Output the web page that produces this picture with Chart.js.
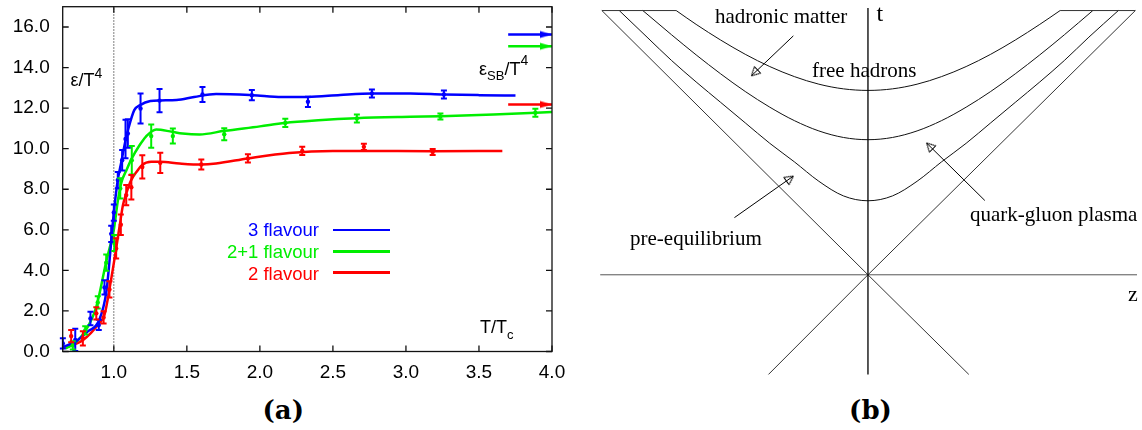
<!DOCTYPE html>
<html>
<head>
<meta charset="utf-8">
<title>energy density and space-time picture</title>
<script src="https://cdn.jsdelivr.net/npm/chart.js@4.4.1/dist/chart.umd.min.js"></script>
<style>
html, body { margin: 0; padding: 0; background: #fff; }
#page { position: relative; width: 1142px; height: 430px; overflow: hidden; }
#page canvas { position: absolute; }
.lbl { position: absolute; line-height: 0; white-space: nowrap; color: #000; }
.sans { font-family: 'Liberation Sans', Arial, Helvetica, sans-serif; }
.serif { font-family: 'Liberation Serif', 'Times New Roman', serif; }
.tag { font-family: 'DejaVu Serif', serif; font-weight: bold; }
.key { position: absolute; height: 2.5px; }
</style>
</head>
<body>
<div id="page">
  <canvas id="chart-a" width="580" height="390" style="left:0px;top:0px"></canvas>
  <canvas id="chart-b" width="552" height="384" style="left:590px;top:0px"></canvas>
</div>
<script>
// ---------- (a) eps/T^4 against T/Tc ----------
var xTicks = [1.0, 1.5, 2.0, 2.5, 3.0, 3.5, 4.0];
var yTicks = [0, 2, 4, 6, 8, 10, 12, 14, 16];
var xRange = [0.65, 4.0];
var yRange = [0, 17];

var names = ['3 flavour', '2+1 flavour', '2 flavour'];
var colors = ['#0000ff', '#00ee00', '#ff0000'];

// lattice points with errors
var blueX   = [0.651, 0.736, 0.840, 0.897, 0.936, 0.982, 1.000, 1.027, 1.057, 1.080, 1.096, 1.183, 1.313, 1.607, 1.945, 2.329, 2.767, 3.260];
var blueY   = [0.40, 0.57, 1.63, 1.31, 3.16, 5.80, 6.85, 8.45, 9.43, 10.48, 10.75, 11.98, 12.37, 12.67, 12.64, 12.31, 12.72, 12.67];
var blueErr = [0.25, 0.55, 0.33, 0.25, 0.35, 0.40, 0.40, 0.40, 0.50, 0.95, 0.70, 0.74, 0.57, 0.37, 0.25, 0.25, 0.20, 0.20];

var greenX   = [0.719, 0.804, 0.890, 0.948, 1.003, 1.044, 1.123, 1.256, 1.404, 1.756, 2.174, 2.664, 3.236, 3.886];
var greenY   = [0.30, 1.04, 2.42, 4.38, 5.35, 8.04, 9.43, 10.62, 10.62, 10.71, 11.27, 11.49, 11.59, 11.77];
var greenErr = [0.20, 0.20, 0.30, 0.40, 0.40, 0.50, 0.70, 0.57, 0.37, 0.30, 0.20, 0.20, 0.15, 0.20];

var redX   = [0.708, 0.788, 0.880, 0.930, 0.970, 1.016, 1.048, 1.085, 1.120, 1.195, 1.318, 1.599, 1.918, 2.290, 2.712, 3.183];
var redY   = [0.76, 0.65, 1.88, 1.68, 3.06, 5.08, 6.25, 7.71, 8.10, 9.10, 9.30, 9.22, 9.52, 9.89, 10.09, 9.84];
var redErr = [0.30, 0.35, 0.30, 0.30, 0.40, 0.50, 0.50, 0.50, 0.60, 0.57, 0.50, 0.25, 0.20, 0.20, 0.15, 0.15];

// fitted curves
var blueFitX = [0.65, 0.74, 0.82, 0.90, 0.95, 0.977, 1.0, 1.027, 1.05, 1.08, 1.10, 1.14, 1.18, 1.25, 1.32, 1.43, 1.55, 1.70, 1.95, 2.15, 2.33, 2.55, 2.77, 3.03, 3.26, 3.50, 3.75];
var blueFitY = [0.22, 0.50, 0.98, 1.55, 3.00, 5.00, 6.85, 8.45, 9.30, 10.40, 11.00, 11.90, 12.15, 12.35, 12.38, 12.40, 12.55, 12.70, 12.64, 12.55, 12.55, 12.65, 12.72, 12.72, 12.67, 12.64, 12.62];

var greenFitX = [0.67, 0.72, 0.80, 0.88, 0.95, 1.00, 1.027, 1.05, 1.09, 1.123, 1.176, 1.22, 1.29, 1.40, 1.47, 1.587, 1.758, 2.00, 2.17, 2.40, 2.66, 3.03, 3.24, 3.60, 3.89, 4.00];
var greenFitY = [0.15, 0.35, 0.95, 2.20, 4.50, 6.00, 7.40, 8.29, 9.00, 9.52, 10.17, 10.60, 10.95, 10.83, 10.75, 10.70, 10.88, 11.10, 11.27, 11.40, 11.50, 11.57, 11.60, 11.68, 11.77, 11.81];

var redFitX = [0.65, 0.79, 0.90, 0.936, 0.977, 1.016, 1.04, 1.062, 1.09, 1.119, 1.16, 1.192, 1.256, 1.318, 1.45, 1.60, 1.70, 1.918, 2.20, 2.50, 2.71, 3.18, 3.66];
var redFitY = [0.16, 0.57, 1.39, 1.80, 3.36, 5.08, 6.20, 7.20, 7.90, 8.45, 8.90, 9.19, 9.35, 9.35, 9.27, 9.22, 9.27, 9.52, 9.79, 9.89, 9.89, 9.87, 9.89];

// Stefan-Boltzmann limits (the arrows on the right)
var sbY = [15.63, 15.05, 12.18];
var sbX = [3.70, 4.0];
var tc = 1.0;

// ---------- (b) space-time picture, z and t in drawing units ----------
var zRange = [-278, 274];
var tRange = [-107, 277];
var edgeT = 271.3;

var coneZ1 = [-271, 0, 102.7],  coneT1 = [271.3, 0, -102.3];
var coneZ2 = [272.3, 0, -101.3], coneT2 = [271.3, 0, -102.3];
var tAxisZ = [0, 0], tAxisT = [274, -102.3];
var zAxisZ = [-272.7, 274], zAxisT = [0, 0];
var edgeLeftZ = [-271, -195.3], edgeRightZ = [195.7, 272.3];

var lowZ = [-253.3, -225, -200, -175, -150, -125, -100, -75, -50, -25, 0, 25, 50, 75, 100, 125, 150, 175, 200, 225, 255];
var lowT = [271.3, 244, 220, 198, 177, 156, 135, 116, 96, 81, 76, 81, 96, 116, 135, 156, 177, 198, 220, 244, 271.3];

var midZ = [-229.3, -200, -175, -150, -125, -100, -75, -50, -25, 0, 25, 50, 75, 100, 125, 150, 175, 200, 229];
var midT = [271.3, 246.4, 225.8, 206.3, 188.2, 172.1, 158.3, 147.7, 141.0, 138.7, 141.0, 147.7, 158.3, 172.1, 188.2, 206.3, 225.8, 246.4, 271.3];

var topZ = [-195.3, -175, -150, -125, -100, -75, -50, -25, 0, 25, 50, 75, 100, 125, 150, 175, 195.7];
var topT = [271.3, 257.1, 241.0, 226.4, 213.8, 203.5, 195.7, 190.9, 189.3, 190.9, 195.7, 203.5, 213.8, 226.4, 241.0, 257.1, 271.3];

// label pointers: [start z, start t], [tip z, tip t]
var hadronPointer = [[-76, 245.3], [-118.7, 204.3]];
var prePointer    = [[-136, 58.7], [-76, 101.3]];
var qgpPointer    = [[119, 76.3], [59.7, 135.3]];

Chart.defaults.font.family = "'Liberation Sans', Arial, sans-serif";
Chart.defaults.color = '#000';

function pts(xs, ys) {
    return xs.map(function (v, i) { return {x: v, y: ys[i]}; });
}

function arrowHead(color) {
    var c = document.createElement('canvas');
    c.width = 28; c.height = 10;
    var g = c.getContext('2d');
    g.fillStyle = color;
    g.beginPath(); g.moveTo(14, 5); g.lineTo(2, 1.5); g.lineTo(2, 8.5); g.closePath(); g.fill();
    return c;
}

function openHead() {
    var c = document.createElement('canvas');
    c.width = 20; c.height = 12;
    var g = c.getContext('2d');
    g.strokeStyle = '#000'; g.lineWidth = 1;
    g.beginPath(); g.moveTo(10, 6); g.lineTo(1.5, 1.5); g.lineTo(1.5, 10.5); g.closePath(); g.stroke();
    return c;
}

var errorBars = {
    id: 'errorBars',
    afterDatasetsDraw: function (chart) {
        var ctx = chart.ctx, x = chart.scales.x, y = chart.scales.y;
        chart.data.datasets.forEach(function (ds) {
            if (!ds.errors) return;
            ctx.save();
            ctx.strokeStyle = ds.borderColor;
            ctx.lineWidth = 2;
            ctx.beginPath();
            ds.data.forEach(function (p, j) {
                var px = x.getPixelForValue(p.x);
                var hi = y.getPixelForValue(p.y + ds.errors[j]);
                var lo = y.getPixelForValue(p.y - ds.errors[j]);
                ctx.moveTo(px, hi); ctx.lineTo(px, lo);
                ctx.moveTo(px - 3, hi); ctx.lineTo(px + 3, hi);
                ctx.moveTo(px - 3, lo); ctx.lineTo(px + 3, lo);
            });
            ctx.stroke();
            ctx.restore();
        });
    }
};

// box with inward ticks on all four sides
var frame = {
    id: 'frame',
    afterDraw: function (chart) {
        var ctx = chart.ctx, a = chart.chartArea, x = chart.scales.x, y = chart.scales.y;
        ctx.save();
        ctx.strokeStyle = '#111';
        ctx.lineWidth = 1.3;
        ctx.strokeRect(a.left, a.top, a.right - a.left, a.bottom - a.top);
        ctx.beginPath();
        x.ticks.forEach(function (t) {
            var p = x.getPixelForValue(t.value);
            ctx.moveTo(p, a.bottom); ctx.lineTo(p, a.bottom - 6);
            ctx.moveTo(p, a.top); ctx.lineTo(p, a.top + 6);
        });
        y.ticks.forEach(function (t) {
            var p = y.getPixelForValue(t.value);
            ctx.moveTo(a.left, p); ctx.lineTo(a.left + 6, p);
            ctx.moveTo(a.right, p); ctx.lineTo(a.right - 6, p);
        });
        ctx.stroke();
        ctx.restore();
    }
};

var pointSets = [[blueX, blueY, blueErr], [greenX, greenY, greenErr], [redX, redY, redErr]];
var fitSets = [[blueFitX, blueFitY], [greenFitX, greenFitY], [redFitX, redFitY]];

var datasetsA = [];
pointSets.forEach(function (s, k) {
    datasetsA.push({
        label: names[k] + ' (lattice)',
        data: pts(s[0], s[1]),
        errors: s[2],
        showLine: false,
        borderColor: colors[k],
        backgroundColor: colors[k],
        pointRadius: 2.2,
        pointBorderWidth: 0
    });
});
fitSets.forEach(function (f, k) {
    datasetsA.push({
        label: names[k],
        data: pts(f[0], f[1]),
        borderColor: colors[k],
        borderWidth: 2.5,
        pointRadius: 0,
        cubicInterpolationMode: 'monotone',
        fill: false
    });
});
sbY.forEach(function (v, k) {
    datasetsA.push({
        label: names[k] + ' SB',
        data: [{x: sbX[0], y: v}, {x: sbX[1], y: v}],
        borderColor: colors[k],
        borderWidth: 2.5,
        pointRadius: [0, 4],
        pointStyle: arrowHead(colors[k]),
        clip: false
    });
});
datasetsA.push({
    label: 'Tc',
    data: [{x: tc, y: yRange[0]}, {x: tc, y: yRange[1]}],
    borderColor: '#000',
    borderWidth: 1,
    borderDash: [1, 2],
    pointRadius: 0
});

function noPad(s) {
    s.paddingTop = 0; s.paddingBottom = 0; s.paddingLeft = 0; s.paddingRight = 0;
}

var configA = {
    type: 'line',
    data: { datasets: datasetsA },
    options: {
        responsive: false,
        animation: false,
        devicePixelRatio: 1,
        events: [],
        layout: { padding: { top: 6.7, right: 28, left: 0, bottom: 0 } },
        plugins: { legend: { display: false }, tooltip: { enabled: false } },
        scales: {
            x: {
                type: 'linear',
                min: xRange[0], max: xRange[1],
                afterBuildTicks: function (s) { s.ticks = xTicks.map(function (v) { return {value: v}; }); },
                afterFit: function (s) { s.height = 38.5; noPad(s); },
                grid: { display: false, drawTicks: false },
                border: { display: false },
                ticks: { padding: 10, autoSkip: false, maxRotation: 0, font: { size: 19 },
                         callback: function (v) { return v.toFixed(1); } }
            },
            y: {
                type: 'linear',
                min: yRange[0], max: yRange[1],
                afterBuildTicks: function (s) { s.ticks = yTicks.map(function (v) { return {value: v}; }); },
                afterFit: function (s) { s.width = 62.7; noPad(s); },
                grid: { display: false, drawTicks: false },
                border: { display: false },
                ticks: { padding: 13, font: { size: 19 },
                         callback: function (v) { return v.toFixed(1); } }
            }
        }
    },
    plugins: [errorBars, frame]
};

new Chart(document.getElementById('chart-a').getContext('2d'), configA);

// ---------- (b) ----------
function lineSet(zs, ts, color, width, smooth) {
    return {
        data: pts(zs, ts),
        showLine: true,
        borderColor: color,
        borderWidth: width,
        pointRadius: 0,
        cubicInterpolationMode: smooth ? 'monotone' : 'default',
        fill: false
    };
}

var headB = openHead();
function pointerSet(p) {
    var dz = p[1][0] - p[0][0], dt = p[1][1] - p[0][1];
    var rot = Math.atan2(-dt, dz) * 180 / Math.PI;
    return {
        data: pts([p[0][0], p[1][0]], [p[0][1], p[1][1]]),
        showLine: true,
        borderColor: '#000',
        borderWidth: 1,
        pointRadius: [0, 4],
        pointStyle: headB,
        pointRotation: [0, rot]
    };
}

var datasetsB = [
    lineSet(tAxisZ, tAxisT, '#000', 1.3, false),
    lineSet(zAxisZ, zAxisT, '#555', 1, false),
    lineSet(coneZ1, coneT1, '#333', 1, false),
    lineSet(coneZ2, coneT2, '#333', 1, false),
    lineSet(edgeLeftZ, [edgeT, edgeT], '#333', 1, false),
    lineSet(edgeRightZ, [edgeT, edgeT], '#333', 1, false),
    lineSet(lowZ, lowT, '#111', 1, true),
    lineSet(midZ, midT, '#111', 1, true),
    lineSet(topZ, topT, '#111', 1, true),
    pointerSet(hadronPointer),
    pointerSet(prePointer),
    pointerSet(qgpPointer)
];

new Chart(document.getElementById('chart-b').getContext('2d'), {
    type: 'scatter',
    data: { datasets: datasetsB },
    options: {
        responsive: false,
        animation: false,
        devicePixelRatio: 1,
        events: [],
        layout: { padding: 0 },
        plugins: { legend: { display: false }, tooltip: { enabled: false } },
        scales: {
            x: { type: 'linear', display: false, min: zRange[0], max: zRange[1] },
            y: { type: 'linear', display: false, min: tRange[0], max: tRange[1] }
        }
    }
});

// ---------- text ----------
var page = document.getElementById('page');
function addText(html, x, base, size, cls, align, color) {
    var d = document.createElement('div');
    d.className = 'lbl ' + cls;
    d.innerHTML = html;
    d.style.fontSize = size + 'px';
    d.style.left = x + 'px';
    d.style.top = (base - 0.34 * size) + 'px';
    if (align === 'right') d.style.transform = 'translateX(-100%)';
    if (align === 'center') d.style.transform = 'translateX(-50%)';
    if (color) d.style.color = color;
    page.appendChild(d);
}
function sup(s, raise, size) { return '<span style="position:relative;top:' + (-raise) + 'px;font-size:' + size + 'px">' + s + '</span>'; }
function sub(s, drop, size) { return '<span style="position:relative;top:' + drop + 'px;font-size:' + size + 'px">' + s + '</span>'; }

addText('ε/T' + sup('4', 8, 14), 70.5, 86.5, 18, 'sans');
addText('ε' + sub('SB', 5, 13) + '/T' + sup('4', 10, 14), 479, 75.5, 18, 'sans');
addText('T/T' + sub('c', 6, 13), 480, 333.5, 18, 'sans');

var keyBase = [236.7, 258.3, 280];
var keyLine = [230, 251.7, 272.7];
names.forEach(function (n, k) {
    addText(n, 319, keyBase[k], 18.5, 'sans', 'right', colors[k]);
    var l = document.createElement('div');
    l.className = 'key';
    l.style.left = '333px';
    l.style.width = '57px';
    l.style.top = (keyLine[k] - 1.25) + 'px';
    l.style.background = colors[k];
    page.appendChild(l);
});

addText('(a)', 283.3, 419, 26, 'tag', 'center');
addText('(b)', 870.5, 419, 26, 'tag', 'center');

addText('hadronic matter', 715, 23.3, 21, 'serif');
addText('t', 876.5, 21.5, 24, 'serif');
addText('free hadrons', 812, 77.5, 21, 'serif');
addText('pre-equilibrium', 630, 245, 21, 'serif');
addText('quark-gluon plasma', 970, 221.5, 21, 'serif');
addText('z', 1128, 301, 22, 'serif');
</script>
</body>
</html>
